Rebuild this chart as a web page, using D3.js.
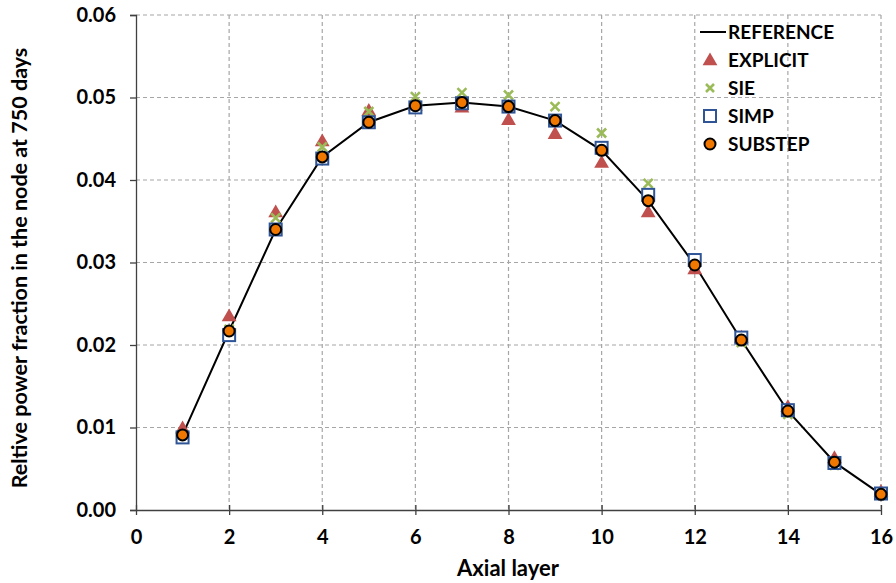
<!DOCTYPE html>
<html><head><meta charset="utf-8">
<script src="https://cdn.jsdelivr.net/npm/d3@7"></script>
<style>body{margin:0;background:#fff;} svg{display:block;}</style>
</head><body>
<svg id="c" width="896" height="583"></svg>
<script>
const layers = [1,2,3,4,5,6,7,8,9,10,11,12,13,14,15,16];
const reference = [0.0091,0.0217,0.0340,0.0428,0.0470,0.0490,0.0494,0.0489,0.0472,0.0436,0.0375,0.0297,0.0206,0.0120,0.0058,0.0019];
const explicit  = [0.0098,0.0234,0.0360,0.0446,0.0483,0.0489,0.0487,0.0472,0.0455,0.0420,0.0360,0.0291,0.0208,0.0124,0.0062,0.0021];
const sie       = [0.0091,0.0219,0.0354,0.0440,0.0483,0.0501,0.0506,0.0503,0.0489,0.0457,0.0396,0.0300,0.0203,0.0116,0.0054,0.0019];
const simp      = [0.0088,0.0212,0.0340,0.0426,0.0470,0.0488,0.0493,0.0489,0.0472,0.0439,0.0382,0.0303,0.0209,0.0121,0.0057,0.0020];
const substep   = [0.0091,0.0217,0.0340,0.0428,0.0470,0.0490,0.0494,0.0489,0.0472,0.0436,0.0375,0.0297,0.0206,0.0120,0.0058,0.0019];
const xTicks = [0,2,4,6,8,10,12,14,16];
const yTicks = [0,0.01,0.02,0.03,0.04,0.05,0.06];
const legendNames = ["REFERENCE","EXPLICIT","SIE","SIMP","SUBSTEP"];

const svg = d3.select("#c");
const font = "Lato, 'Open Sans', sans-serif";
const L=136, R=881, T=15, B=510;
const x = d3.scaleLinear().domain([0,16]).range([L,R]);
const y = d3.scaleLinear().domain([0,0.06]).range([B,T]);

// gridlines
const g = svg.append("g");
g.selectAll("line.gx").data(xTicks.filter(d=>d>0)).join("line")
  .attr("x1",d=>x(d)).attr("x2",d=>x(d)).attr("y1",T).attr("y2",B)
  .attr("stroke","#a6a6a6").attr("stroke-width",1.2).attr("stroke-dasharray","4,3");
g.selectAll("line.gy").data(yTicks.filter(d=>d>0)).join("line")
  .attr("x1",L).attr("x2",R).attr("y1",d=>y(d)).attr("y2",d=>y(d))
  .attr("stroke","#a6a6a6").attr("stroke-width",1.2).attr("stroke-dasharray","4,3");

// axes
const xAxis = svg.append("g").attr("transform",`translate(0,${B})`)
  .call(d3.axisBottom(x).tickValues(xTicks).tickSize(0).tickPadding(20).tickFormat(d3.format("d")));
xAxis.selectAll(".tick").append("line").attr("y1",-5).attr("y2",5).attr("stroke","#404040");
const yAxis = svg.append("g").attr("transform",`translate(${L},0)`)
  .call(d3.axisLeft(y).tickValues(yTicks).tickSize(6).tickPadding(14).tickFormat(d3.format(".2f")));
[xAxis,yAxis].forEach(a=>{
  a.select(".domain").attr("stroke","#404040").attr("stroke-width",1.3);
  a.selectAll(".tick line").attr("stroke","#404040").attr("stroke-width",1.3);
  a.selectAll("text").attr("font-family",font).attr("font-weight","bold").attr("font-size",20).attr("fill","#000");
});

// axis titles
svg.append("text").attr("x",508).attr("y",576).attr("text-anchor","middle")
  .attr("font-family",font).attr("font-weight","bold").attr("font-size",22).text("Axial layer");
svg.append("text").attr("transform","translate(27,268) rotate(-90)").attr("text-anchor","middle")
  .attr("font-family",font).attr("font-weight","bold").attr("font-size",21.5)
  .text("Reltive power fraction in the node at 750 days");

const pts = arr => layers.map((l,i)=>({x:l,y:arr[i]}));
// reference line
svg.append("path").datum(pts(reference))
  .attr("d",d3.line().x(d=>x(d.x)).y(d=>y(d.y)))
  .attr("fill","none").attr("stroke","#000").attr("stroke-width",2);

const tri = d3.symbol().type(d3.symbolTriangle).size(95);
const red="#C0504D", green="#9BBB59", blue="#2F5597", orange="#F07800";
svg.append("g").selectAll("path").data(pts(explicit)).join("path")
  .attr("d",tri).attr("transform",d=>`translate(${x(d.x)},${y(d.y)})`).attr("fill",red);
const cross = (cx,cy,s)=>`M${cx-s},${cy-s}L${cx+s},${cy+s}M${cx-s},${cy+s}L${cx+s},${cy-s}`;
svg.append("g").selectAll("path").data(pts(sie)).join("path")
  .attr("d",d=>cross(x(d.x),y(d.y),4.5)).attr("stroke",green).attr("stroke-width",2.6).attr("fill","none");
svg.append("g").selectAll("rect").data(pts(simp)).join("rect")
  .attr("x",d=>x(d.x)-6).attr("y",d=>y(d.y)-6).attr("width",12).attr("height",12)
  .attr("fill","#fff").attr("stroke",blue).attr("stroke-width",2);
svg.append("g").selectAll("circle").data(pts(substep)).join("circle")
  .attr("cx",d=>x(d.x)).attr("cy",d=>y(d.y)).attr("r",5.5)
  .attr("fill",orange).attr("stroke","#000").attr("stroke-width",2);

// legend
const lg = svg.append("g");
const ly = [32,60,88,116,144];
lg.selectAll("text").data(legendNames).join("text")
  .attr("x",728).attr("y",(d,i)=>ly[i]+7).attr("font-family",font).attr("font-weight","bold")
  .attr("font-size",19).text(d=>d);
lg.append("line").attr("x1",700).attr("x2",726).attr("y1",ly[0]).attr("y2",ly[0]).attr("stroke","#000").attr("stroke-width",2);
lg.append("path").attr("d",tri).attr("transform",`translate(710,${ly[1]+1})`).attr("fill",red);
lg.append("path").attr("d",cross(710,ly[2],4)).attr("stroke",green).attr("stroke-width",2.6);
lg.append("rect").attr("x",704).attr("y",ly[3]-6).attr("width",12).attr("height",12).attr("fill","#fff").attr("stroke",blue).attr("stroke-width",2);
lg.append("circle").attr("cx",710).attr("cy",ly[4]).attr("r",5.5).attr("fill",orange).attr("stroke","#000").attr("stroke-width",2);
</script>
</body></html>
